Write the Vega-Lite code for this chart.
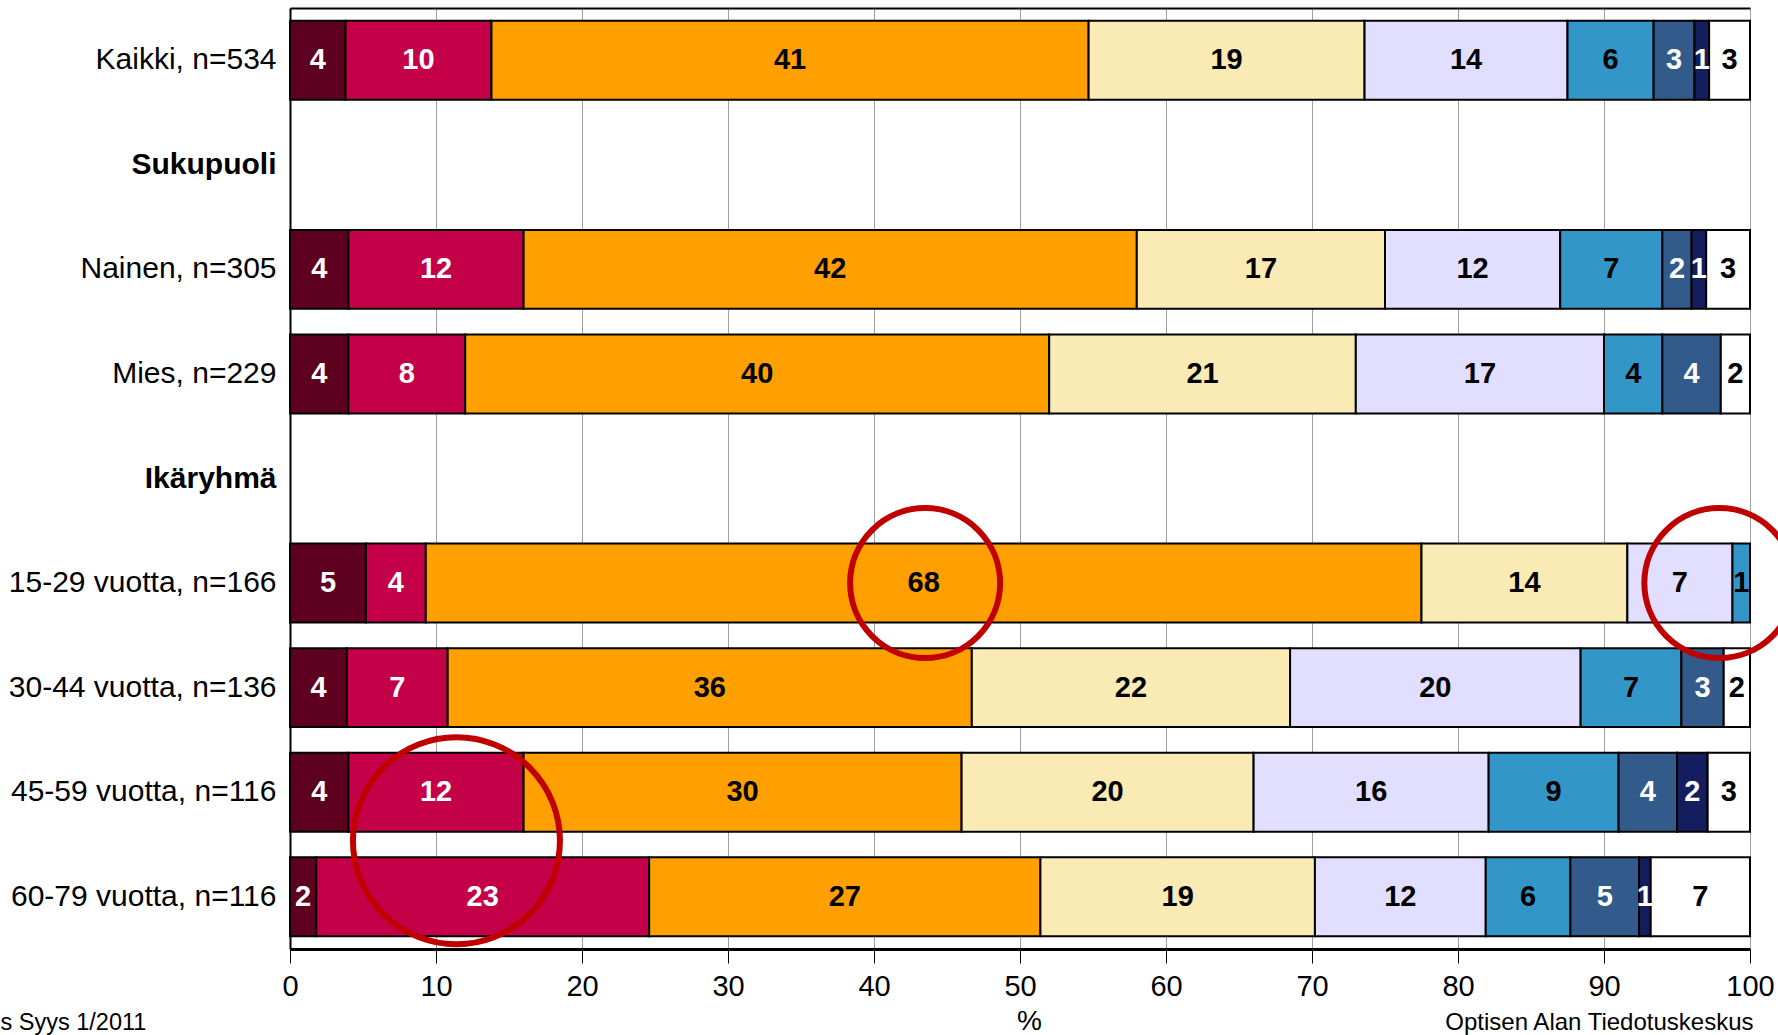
{
  "$schema": "https://vega.github.io/schema/vega-lite/v6.json",
  "width": 1460,
  "height": 941,
  "autosize": {"type": "none"},
  "padding": {"left": 290, "top": 8, "right": 28, "bottom": 86},
  "background": "white",
  "config": {"view": {"stroke": null}, "font": "Liberation Sans"},
  "datasets": {
    "bars": [
      {"group": "Kaikki, n=534", "cat": "1", "value": 3.8},
      {"group": "Kaikki, n=534", "cat": "2", "value": 10.0},
      {"group": "Kaikki, n=534", "cat": "3", "value": 40.9},
      {"group": "Kaikki, n=534", "cat": "4", "value": 18.9},
      {"group": "Kaikki, n=534", "cat": "5", "value": 13.9},
      {"group": "Kaikki, n=534", "cat": "6", "value": 5.9},
      {"group": "Kaikki, n=534", "cat": "7", "value": 2.8},
      {"group": "Kaikki, n=534", "cat": "8", "value": 1.0},
      {"group": "Kaikki, n=534", "cat": "9", "value": 2.8},
      {"group": "Nainen, n=305", "cat": "1", "value": 4.0},
      {"group": "Nainen, n=305", "cat": "2", "value": 12.0},
      {"group": "Nainen, n=305", "cat": "3", "value": 42.0},
      {"group": "Nainen, n=305", "cat": "4", "value": 17.0},
      {"group": "Nainen, n=305", "cat": "5", "value": 12.0},
      {"group": "Nainen, n=305", "cat": "6", "value": 7.0},
      {"group": "Nainen, n=305", "cat": "7", "value": 2.0},
      {"group": "Nainen, n=305", "cat": "8", "value": 1.0},
      {"group": "Nainen, n=305", "cat": "9", "value": 3.0},
      {"group": "Mies, n=229", "cat": "1", "value": 4.0},
      {"group": "Mies, n=229", "cat": "2", "value": 8.0},
      {"group": "Mies, n=229", "cat": "3", "value": 40.0},
      {"group": "Mies, n=229", "cat": "4", "value": 21.0},
      {"group": "Mies, n=229", "cat": "5", "value": 17.0},
      {"group": "Mies, n=229", "cat": "6", "value": 4.0},
      {"group": "Mies, n=229", "cat": "7", "value": 4.0},
      {"group": "Mies, n=229", "cat": "9", "value": 2.0},
      {"group": "15-29 vuotta, n=166", "cat": "1", "value": 5.2},
      {"group": "15-29 vuotta, n=166", "cat": "2", "value": 4.1},
      {"group": "15-29 vuotta, n=166", "cat": "3", "value": 68.2},
      {"group": "15-29 vuotta, n=166", "cat": "4", "value": 14.1},
      {"group": "15-29 vuotta, n=166", "cat": "5", "value": 7.2},
      {"group": "15-29 vuotta, n=166", "cat": "6", "value": 1.2},
      {"group": "30-44 vuotta, n=136", "cat": "1", "value": 3.9},
      {"group": "30-44 vuotta, n=136", "cat": "2", "value": 6.9},
      {"group": "30-44 vuotta, n=136", "cat": "3", "value": 35.9},
      {"group": "30-44 vuotta, n=136", "cat": "4", "value": 21.8},
      {"group": "30-44 vuotta, n=136", "cat": "5", "value": 19.9},
      {"group": "30-44 vuotta, n=136", "cat": "6", "value": 6.9},
      {"group": "30-44 vuotta, n=136", "cat": "7", "value": 2.9},
      {"group": "30-44 vuotta, n=136", "cat": "9", "value": 1.8},
      {"group": "45-59 vuotta, n=116", "cat": "1", "value": 4.0},
      {"group": "45-59 vuotta, n=116", "cat": "2", "value": 12.0},
      {"group": "45-59 vuotta, n=116", "cat": "3", "value": 30.0},
      {"group": "45-59 vuotta, n=116", "cat": "4", "value": 20.0},
      {"group": "45-59 vuotta, n=116", "cat": "5", "value": 16.1},
      {"group": "45-59 vuotta, n=116", "cat": "6", "value": 8.9},
      {"group": "45-59 vuotta, n=116", "cat": "7", "value": 4.0},
      {"group": "45-59 vuotta, n=116", "cat": "8", "value": 2.1},
      {"group": "45-59 vuotta, n=116", "cat": "9", "value": 2.9},
      {"group": "60-79 vuotta, n=116", "cat": "1", "value": 1.8},
      {"group": "60-79 vuotta, n=116", "cat": "2", "value": 22.8},
      {"group": "60-79 vuotta, n=116", "cat": "3", "value": 26.8},
      {"group": "60-79 vuotta, n=116", "cat": "4", "value": 18.8},
      {"group": "60-79 vuotta, n=116", "cat": "5", "value": 11.7},
      {"group": "60-79 vuotta, n=116", "cat": "6", "value": 5.8},
      {"group": "60-79 vuotta, n=116", "cat": "7", "value": 4.7},
      {"group": "60-79 vuotta, n=116", "cat": "8", "value": 0.8},
      {"group": "60-79 vuotta, n=116", "cat": "9", "value": 6.8}
    ],
    "circles": [
      {"group": "15-29 vuotta, n=166", "x": 43.5},
      {"group": "15-29 vuotta, n=166", "x": 97.9}
    ],
    "circle2": [
      {"group": "60-79 vuotta, n=116", "x": 11.4}
    ]
  },
  "encoding": {
    "y": {
      "field": "group",
      "type": "nominal",
      "scale": {
        "domain": ["Kaikki, n=534", "Sukupuoli", "Nainen, n=305", "Mies, n=229", "Ikäryhmä", "15-29 vuotta, n=166", "30-44 vuotta, n=136", "45-59 vuotta, n=116", "60-79 vuotta, n=116"],
        "paddingInner": 0.245,
        "paddingOuter": 0.1225
      },
      "axis": {
        "title": "s Syys 1/2011",
        "titleAngle": 0,
        "titleX": -290,
        "titleY": 1021,
        "titleAlign": "left",
        "titleBaseline": "alphabetic",
        "titleFontSize": 23.5,
        "titleFontWeight": "normal",
        "titleColor": "black",
        "titleFont": "Liberation Sans",
        "labelFontSize": 30,
        "labelFont": "Liberation Sans",
        "labelColor": "black",
        "labelPadding": 14,
        "labelLimit": 0,
        "ticks": false,
        "grid": false,
        "domain": true,
        "domainColor": "black",
        "domainWidth": 2,
        "labelFontWeight": {"condition": {"test": "datum.value === 'Sukupuoli' || datum.value === 'Ikäryhmä'", "value": "bold"}, "value": "normal"}
      }
    }
  },
  "layer": [
    {
      "data": {"name": "bars"},
      "mark": {"type": "bar", "stroke": "black", "strokeWidth": 2},
      "encoding": {
        "x": {
          "field": "value",
          "type": "quantitative",
          "stack": "zero",
          "scale": {"domain": [0, 100], "nice": false},
          "axis": {
            "orient": "bottom",
            "values": [0, 10, 20, 30, 40, 50, 60, 70, 80, 90, 100],
            "grid": true,
            "gridColor": "#a0a0a0",
            "gridWidth": 1,
            "domain": true,
            "domainColor": "black",
            "domainWidth": 3,
            "ticks": true,
            "tickColor": "black",
            "tickSize": 14,
            "tickWidth": 1,
            "labelFontSize": 29,
            "labelFont": "Liberation Sans",
            "labelColor": "black",
            "labelPadding": 9,
            "labelFlush": false,
            "labelOverlap": false,
            "title": "%",
            "titleFontSize": 28,
            "titleFontWeight": "normal",
            "titleColor": "black",
            "titleFont": "Liberation Sans",
            "titleX": 739,
            "titleY": 58,
            "titleBaseline": "top",
            "titleAlign": "center"
          }
        },
        "order": {"field": "cat", "sort": "ascending"},
        "color": {
          "field": "cat",
          "type": "nominal",
          "scale": {
            "domain": ["1", "2", "3", "4", "5", "6", "7", "8", "9"],
            "range": ["#5E0020", "#C30048", "#FF9F00", "#FAEBB4", "#E1DEFF", "#3396C8", "#325A8A", "#141E5E", "#FFFFFF"]
          },
          "legend": null
        }
      }
    },
    {
      "data": {"name": "bars"},
      "transform": [
        {"stack": "value", "groupby": ["group"], "sort": [{"field": "cat", "order": "ascending"}], "as": ["x0", "x1"]},
        {"fold": ["x0", "x1"], "as": ["edge", "pos"]},
        {"aggregate": [{"op": "mean", "field": "pos", "as": "mid"}], "groupby": ["group", "cat", "value"]}
      ],
      "mark": {"type": "text", "fontSize": 29, "fontWeight": "bold", "font": "Liberation Sans", "align": "center", "baseline": "middle"},
      "encoding": {
        "x": {"field": "mid", "type": "quantitative", "axis": null},
        "text": {"field": "value", "type": "quantitative", "format": ".0f"},
        "color": {
          "condition": {"test": "datum.cat === '1' || datum.cat === '2' || datum.cat === '7' || datum.cat === '8'", "value": "white"},
          "value": "black"
        }
      }
    },
    {
      "data": {"name": "circles"},
      "mark": {"type": "point", "shape": "circle", "filled": false, "stroke": "#C00000", "strokeWidth": 6, "size": 22500, "opacity": 1},
      "encoding": {
        "x": {
          "field": "x",
          "type": "quantitative",
          "axis": {
            "orient": "top",
            "domain": true,
            "domainColor": "black",
            "domainWidth": 2,
            "labels": false,
            "ticks": false,
            "grid": false,
            "title": "Optisen Alan Tiedotuskeskus",
            "titleAngle": 0,
            "titleX": 1463,
            "titleY": 1021,
            "titleAlign": "right",
            "titleBaseline": "alphabetic",
            "titleFontSize": 24,
            "titleFontWeight": "normal",
            "titleColor": "black",
            "titleFont": "Liberation Sans"
          }
        }
      }
    },
    {
      "data": {"name": "circle2"},
      "mark": {"type": "point", "shape": "circle", "filled": false, "stroke": "#C00000", "strokeWidth": 6, "size": 42850, "opacity": 1, "yOffset": -56},
      "encoding": {
        "x": {"field": "x", "type": "quantitative", "axis": null}
      }
    }
  ],
  "resolve": {"axis": {"x": "independent"}}
}
